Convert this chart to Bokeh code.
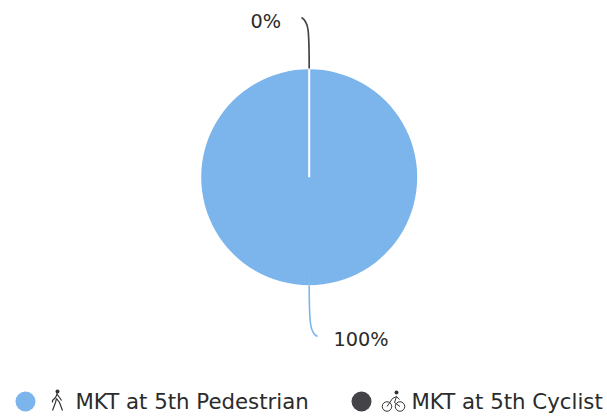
import math
from bokeh.plotting import figure
from bokeh.models import Range1d
from bokeh.core.properties import value
from bokeh.embed import file_html
from bokeh.resources import INLINE

categories = ["MKT at 5th Pedestrian", "MKT at 5th Cyclist"]
shares = [100, 0]
share_labels = ["100%", "0%"]
colors = ["#7cb5ec", "#434348"]
FONT = "DejaVu Sans"
TEXT = "#2b2b2b"

p = figure(width=607, height=417, output_backend="svg", toolbar_location=None,
           x_range=Range1d(0, 607), y_range=Range1d(417, 0), min_border=0,
           outline_line_color=None)
p.xaxis.visible = False
p.yaxis.visible = False
p.grid.visible = False

# pie
cx, cy, r = 308.7, 176.7, 108
total = sum(shares)
cum = 0
for s, c in zip(shares, colors):
    if s > 0:
        a0 = 2 * math.pi * cum / total
        a1 = 2 * math.pi * (cum + s) / total
        p.wedge(x=[cx], y=[cy], radius=r, start_angle=[-math.pi/2 + a0 + 1e-4],
                end_angle=[-math.pi/2 + a1 - 1e-4], direction="anticlock",
                fill_color=c, line_color=None)
    cum += s
p.line([cx, cx], [cy, cy - r], line_color="white", line_width=2)

# connectors
p.bezier(x0=[cx], y0=[68], x1=[301], y1=[17], cx0=[cx], cy0=[28], cx1=[308], cy1=[21],
         line_color=colors[1], line_width=1.7)
p.bezier(x0=[cx], y0=[285], x1=[317], y1=[336], cx0=[cx], cy0=[325], cx1=[310], cy1=[333],
         line_color=colors[0], line_width=1.6)

lab_kw = dict(text_font=value(FONT), text_color=TEXT, text_baseline="middle", text_align="left")
p.text(x=[250], y=[21], text=[share_labels[1]], text_font_size="19.3px", **lab_kw)
p.text(x=[333], y=[339], text=[share_labels[0]], text_font_size="19.3px", **lab_kw)

# legend
p.scatter(x=[25, 361], y=[401, 401], size=20, marker="circle", fill_color=colors, line_color=None)
p.text(x=[75, 411], y=[401, 401], text=categories, text_font_size="21.3px", **lab_kw)

# walker icon
ICON = "#333333"
def walker(ox, oy):
    p.scatter(x=[ox], y=[oy - 8], size=4, marker="circle", fill_color=ICON, line_color=None)
    xs = [[ox, ox - 2, ox - 5, ox - 5], [ox - 1, ox + 2, ox + 4], [ox - 1, ox - 2, ox - 5], [ox - 1, ox + 2, ox + 5]]
    ys = [[oy - 6, oy - 2, oy + 1, oy + 3], [oy - 6, oy - 2, oy + 1], [oy - 1, oy + 3, oy + 11], [oy - 1, oy + 3, oy + 11]]
    p.multi_line(xs, ys, line_color=ICON, line_width=1.2)

def cyclist(ox, oy):
    p.scatter(x=[ox - 6.5, ox + 6.5], y=[oy + 5, oy + 5], size=9.5, marker="circle",
              fill_color=None, line_color=ICON, line_width=1)
    p.scatter(x=[ox + 3], y=[oy - 9], size=4, marker="circle", fill_color=ICON, line_color=None)
    xs = [[ox - 6.5, ox - 1, ox + 3, ox + 1, ox + 6.5], [ox + 3, ox + 6]]
    ys = [[oy + 5, oy - 3, oy - 5, oy + 1, oy + 5], [oy - 5, oy - 2]]
    p.multi_line(xs, ys, line_color=ICON, line_width=1)

walker(57, 399)
cyclist(393, 401)

open("out.html", "w").write(file_html(p, INLINE))
